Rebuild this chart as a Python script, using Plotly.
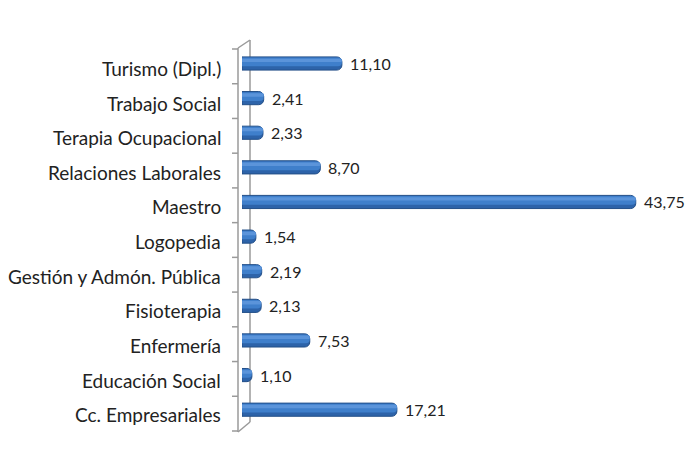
import plotly.graph_objects as go

categories = ["Turismo (Dipl.)", "Trabajo Social", "Terapia Ocupacional",
              "Relaciones Laborales", "Maestro", "Logopedia",
              "Gestión y Admón. Pública", "Fisioterapia", "Enfermería",
              "Educación Social", "Cc. Empresariales"]
values = [11.10, 2.41, 2.33, 8.70, 43.75, 1.54, 2.19, 2.13, 7.53, 1.10, 17.21]

labels = [f"{v:.2f}".replace(".", ",") for v in values]

# the page body adds an 8px margin round the figure
OFF = 8
W, H = 694 - OFF, 454 - 2 * OFF
L, R, T = 242 - OFF, 20, 45 - OFF
B = H - (427 - OFF)
XMAX = 48
PW = W - L - R                   # plot width in px
PH = H - T - B                   # plot height in px
X0, Y1 = 242, 427                # plot left / bottom in page pixels


def xp(px):   # page pixel x -> paper x
    return (px - X0) / PW


def yp(py):   # page pixel y -> paper y
    return (Y1 - py) / PH


fig = go.Figure()

# dark base of the cylinder
fig.add_trace(go.Bar(
    y=categories, x=values, orientation="h", width=0.38,
    marker=dict(color="#2D63A9", line=dict(color="#234F88", width=1), cornerradius=5),
    hoverinfo="skip",
))
# mid tone
fig.add_trace(go.Bar(
    y=categories, x=values, orientation="h", width=0.25, offset=-0.17,
    marker=dict(color="#3F7FCB", line=dict(width=0), cornerradius=4),
    hoverinfo="skip",
))
# highlight
fig.add_trace(go.Bar(
    y=categories, x=values, orientation="h", width=0.1, offset=-0.14,
    marker=dict(color="#5B94DA", line=dict(width=0), cornerradius=2),
    hoverinfo="skip",
))

ann = []
for c, v, t in zip(categories, values, labels):
    ann.append(dict(x=v, y=c, xref="x", yref="y", text=t, showarrow=False,
                    xanchor="left", xshift=6,
                    font=dict(family="Lato", size=16, color="#222")))
    ann.append(dict(x=0, y=c, xref="paper", yref="y", text=c, showarrow=False,
                    xanchor="right", xshift=-19, yshift=-5,
                    font=dict(family="Lato", size=19, color="#222")))

# 3D wall of the category axis
wall = dict(color="#9A9A9A", width=1.5)
n = len(categories)
band = PH / n


def seg(xa, ya, xb, yb):
    return dict(type="line", xref="paper", yref="paper",
                x0=xp(xa), y0=yp(ya), x1=xp(xb), y1=yp(yb), line=wall, layer="below")


shapes = [
    seg(238, 48, 238, 432),
    seg(250, 40, 250, 422),
    seg(238, 48, 250, 40),
    seg(238, 432, 250, 422),
]
for i in range(n + 1):
    py = 45 + i * band + 4
    shapes.append(seg(232, py, 238, py))

fig.update_layout(
    width=W, height=H,
    margin=dict(l=L, r=R, t=T, b=B, autoexpand=False),
    paper_bgcolor="white", plot_bgcolor="rgba(0,0,0,0)",
    barmode="overlay", showlegend=False,
    xaxis=dict(range=[0, XMAX], visible=False, automargin=False),
    yaxis=dict(autorange="reversed", showticklabels=False, showline=False,
               showgrid=False, zeroline=False, automargin=False),
    annotations=ann, shapes=shapes,
)

fig.write_html("out.html")
